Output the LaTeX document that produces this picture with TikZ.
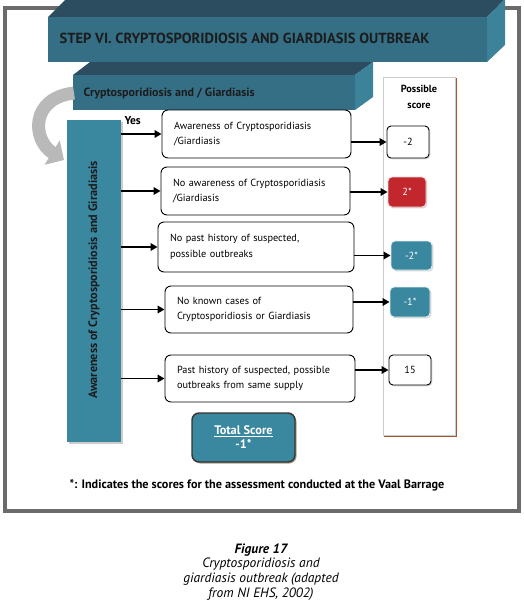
\documentclass[tikz,border=0pt]{standalone}
\usepackage{fontspec}
\setmainfont{PT Sans}
\usetikzlibrary{arrows.meta,shadows}
\definecolor{hdrfront}{HTML}{346F85}
\definecolor{hdrtop}{HTML}{2C4D60}
\definecolor{hdrside}{HTML}{3C8298}
\definecolor{barteal}{HTML}{3A87A0}
\definecolor{scorered}{HTML}{C1272D}
\definecolor{framegray}{HTML}{6B6B6B}
\definecolor{colbrown}{HTML}{A4562E}
\definecolor{inktext}{HTML}{1C1C1C}
\tikzset{
  optbox/.style={draw, line width=0.9pt, rounded corners=6pt, fill=white, align=left,
    inner xsep=12pt, inner ysep=0pt, font=\fontsize{10.3}{15.5}\selectfont},
  scorebox/.style={draw, line width=0.9pt, rounded corners=4pt, inner sep=0pt,
    font=\fontsize{10.3}{11}\selectfont,
    drop shadow={shadow xshift=1.3pt, shadow yshift=-1.3pt, fill=black!30}},
  tealbox/.style={scorebox, draw=white!85!barteal, fill=barteal, text=white},
  link/.style={line width=1.8pt, -{Triangle[length=7pt,width=7.5pt]}}
}
\begin{document}
\begin{tikzpicture}[x=1pt,y=-1pt]
\useasboundingbox (0,0) rectangle (524,603);
\draw[framegray, line width=3.5pt] (5,8) rectangle (519,511);

% step header
\fill[hdrtop] (48,17) -- (66,-1) -- (505,-1) -- (487,17) -- cycle;
\fill[hdrside] (487,17) -- (505,-1) -- (505,45) -- (487,62) -- cycle;
\fill[hdrfront] (48,17) rectangle (487,62);
\node[anchor=west, text=inktext, font=\bfseries\fontsize{14.6}{16}\selectfont] (step) at (56,38) {STEP VI. CRYPTOSPORIDIOSIS AND GIARDIASIS OUTBREAK};

\fill[hdrtop] (73,75) -- (90,62) -- (373,62) -- (355,75) -- cycle;
\fill[hdrside] (355,75) -- (373,62) -- (373,97) -- (355,110) -- cycle;
\fill[hdrfront] (73,75) rectangle (355,110);
\node[anchor=west, text=inktext, font=\bfseries\fontsize{12}{14}\selectfont] (topic) at (80,93) {Cryptosporidiosis and / Giardiasis};

% curved arrow
\draw[gray!55, line width=13pt, -{Triangle[length=14pt,width=28pt]}] (74,93) .. controls (30,98) and (32,140) .. (64,160);

% possible score column
\draw[colbrown, line width=2pt] (456,78) -- (456,436) -- (384,436);
\draw[gray!40, fill=white] (383,77) rectangle (455,435);
\node[font=\bfseries\fontsize{10.3}{16}\selectfont, align=center] (poss) at (419,97) {Possible\\score};

% awareness bar
\fill[black!20] (69,122) rectangle (123,444);
\fill[barteal] (67,120) rectangle (121,442);
\node[rotate=90, text=inktext, font=\bfseries\fontsize{12.2}{14}\selectfont] (bar) at (94,280) {Awareness of Cryptosporidiosis and Giradiasis};
\coordinate (barR) at (121,281);
\node[anchor=south west, font=\bfseries\fontsize{11.5}{13}\selectfont] (yes) at (121,128) {Yes};

% options
\node[optbox, text width=165pt, minimum height=48pt] (o1) at (256.5,134) {Awareness of Cryptosporidiasis\\/Giardiasis};
\node[optbox, text width=165pt, minimum height=48pt] (o2) at (255.5,191) {No awareness of Cryptosporidiasis\\/Giardiasis};
\node[optbox, text width=172pt, minimum height=50pt] (o3) at (256,247) {No past history of suspected,\\possible outbreaks};
\node[optbox, text width=164pt, minimum height=47pt] (o4) at (259,309.5) {No known cases of\\Cryptosporidiosis or Giardiasis};
\node[optbox, text width=166pt, minimum height=47pt] (o5) at (260,378.5) {Past history of suspected, possible\\outbreaks from same supply};

% scores
\node[scorebox, fill=white, minimum width=42pt, minimum height=32pt] (s1) at (408,142) {-2};
\node[scorebox, draw=white!80!scorered, fill=scorered, text=white, minimum width=38pt, minimum height=30pt] (s2) at (407,192) {2*};
\node[tealbox, minimum width=41pt, minimum height=29pt] (s3) at (411.5,255.5) {-2*};
\node[tealbox, minimum width=40pt, minimum height=30pt] (s4) at (410,302) {-1*};
\node[scorebox, fill=white, minimum width=42pt, minimum height=30pt] (s5) at (410,370) {15};

\foreach \k in {1,...,5}{
  \draw[link] (barR |- o\k.west) -- (o\k.west);
  \draw[link] (o\k.east |- s\k.west) -- (s\k.west);}

% total
\node[draw=black!80!olive, line width=1.4pt, fill=barteal, rounded corners=7pt, text=white, align=center,
  minimum width=103pt, minimum height=49pt, font=\bfseries\fontsize{12.4}{14}\selectfont,
  drop shadow={shadow xshift=1.5pt, shadow yshift=-1.5pt, fill=black!60!olive}] (total) at (243.5,437.5) {\underline{Total Score}\\-1*};

\node[font=\bfseries\fontsize{12.2}{14}\selectfont] (note) at (257,485) {*: Indicates the scores for the assessment conducted at the Vaal Barrage};

% caption
\node[font=\itshape\fontsize{13.5}{14.8}\selectfont, align=center, anchor=north] (cap) at (261,540) {\textbf{Figure 17}\\Cryptosporidiosis and\\giardiasis outbreak (adapted\\from NI EHS, 2002)};
\end{tikzpicture}
\end{document}
